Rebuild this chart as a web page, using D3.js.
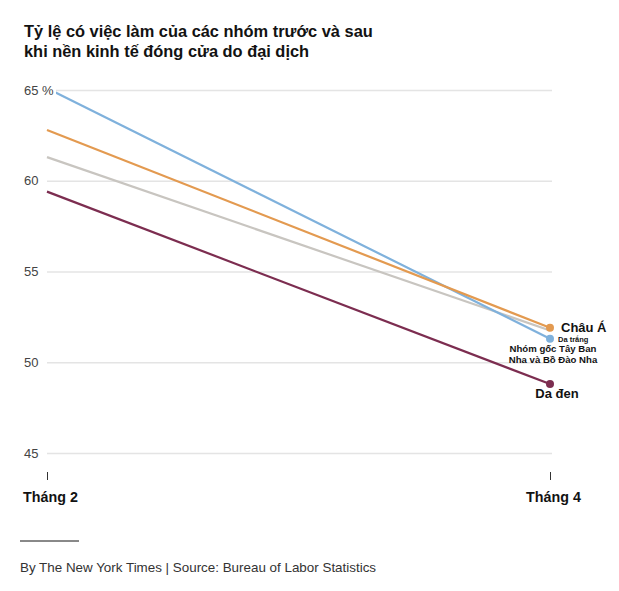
<!DOCTYPE html>
<html><head><meta charset="utf-8">
<script src="https://cdn.jsdelivr.net/npm/d3@7"></script>
<style>
body{margin:0;background:#fff;}
svg text{font-family:"Liberation Sans",Arial,sans-serif;}
</style></head>
<body><svg id="c" width="619" height="591"></svg>
<script>
const periods = ["Tháng 2", "Tháng 4"];
const seriesNames = ["Nhóm gốc Tây Ban Nha và Bồ Đào Nha", "Châu Á", "Da trắng", "Da đen"];
const hispanic = [65.1, 51.3];
const asian = [62.8, 51.9];
const white = [61.3, 51.75];
const black = [59.4, 48.8];
const yTicks = [45, 50, 55, 60, 65];
const colors = ["#7fb1dc", "#e39a50", "#c8c5c0", "#7c2d50"];

const svg = d3.select("#c");
const x = d3.scalePoint().domain(periods).range([47, 550]);
const y = d3.scaleLinear().domain([45, 65]).range([453, 90]);

// title
svg.append("text").attr("x", 24).attr("y", 37).attr("font-size", 16.4).attr("font-weight", "bold").attr("fill", "#121212")
  .text("Tỷ lệ có việc làm của các nhóm trước và sau");
svg.append("text").attr("x", 24).attr("y", 57).attr("font-size", 16.4).attr("font-weight", "bold").attr("fill", "#121212")
  .text("khi nền kinh tế đóng cửa do đại dịch");

// grid
const yAxis = d3.axisLeft(y).tickValues(yTicks).tickSize(-(552 - 47)).tickFormat(d => d === 65 ? "65 %" : d);
const gy = svg.append("g").attr("transform", "translate(47,0)").call(yAxis);
gy.select(".domain").remove();
gy.selectAll(".tick line").attr("stroke", "#e4e4e4").attr("stroke-width", 1.3);
gy.selectAll(".tick text").attr("x", -23).attr("text-anchor", "start").attr("font-size", 13).attr("fill", "#444")
  .attr("font-family", "Liberation Sans, Arial, sans-serif");

const data = [hispanic, asian, white, black];
const line = d3.line().x((d, i) => x(periods[i])).y(d => y(d));
const order = [2, 0, 1, 3];
order.forEach(k => {
  svg.append("path").datum(data[k]).attr("d", line).attr("fill", "none")
    .attr("stroke", colors[k]).attr("stroke-width", 2.2);
});
// white box behind 65 % label
svg.append("rect").attr("x", 22).attr("y", 80).attr("width", 34).attr("height", 20).attr("fill", "#fff");
svg.append("text").attr("x", 24).attr("y", 95).attr("font-size", 13).attr("fill", "#444").text("65 %");
gy.selectAll(".tick").filter(d => d === 65).select("text").remove();

// end dots
[0, 2, 1, 3].forEach(k => {
  if (k === 2) return;
  svg.append("circle").attr("cx", x(periods[1])).attr("cy", y(data[k][1])).attr("r", 4).attr("fill", colors[k]);
});

// x axis
const xAxis = d3.axisBottom(x).tickSize(8).tickPadding(10);
const gx = svg.append("g").attr("transform", "translate(0,472)").call(xAxis);
gx.select(".domain").remove();
gx.selectAll(".tick line").attr("stroke", "#333");
gx.selectAll(".tick text").attr("font-size", 14.3).attr("font-weight", "bold").attr("fill", "#121212")
  .attr("font-family", "Liberation Sans, Arial, sans-serif").attr("dy", "0.85em").attr("x", 3);

// labels
const xe = x(periods[1]);
svg.append("text").attr("x", xe + 11).attr("y", y(asian[1]) + 4).attr("font-size", 13).attr("font-weight", "bold").attr("fill", "#121212").text(seriesNames[1]);
svg.append("text").attr("x", xe + 8).attr("y", y(hispanic[1]) + 3.5).attr("font-size", 7.5).attr("font-weight", "bold").attr("fill", "#121212").text(seriesNames[2]);
svg.append("text").attr("x", xe + 3).attr("y", 352).attr("font-size", 9.6).attr("font-weight", "bold").attr("fill", "#121212").attr("text-anchor", "middle").text("Nhóm gốc Tây Ban");
svg.append("text").attr("x", xe + 3).attr("y", 363).attr("font-size", 9.6).attr("font-weight", "bold").attr("fill", "#121212").attr("text-anchor", "middle").text("Nha và Bồ Đào Nha");
svg.append("text").attr("x", xe + 7).attr("y", y(black[1]) + 14).attr("font-size", 13).attr("font-weight", "bold").attr("fill", "#121212").attr("text-anchor", "middle").text(seriesNames[3]);

// footer
svg.append("line").attr("x1", 20).attr("x2", 79).attr("y1", 541).attr("y2", 541).attr("stroke", "#121212").attr("stroke-width", 1);
svg.append("text").attr("x", 20).attr("y", 572).attr("font-size", 13.4).attr("fill", "#333")
  .text("By The New York Times | Source: Bureau of Labor Statistics");
</script></body></html>
